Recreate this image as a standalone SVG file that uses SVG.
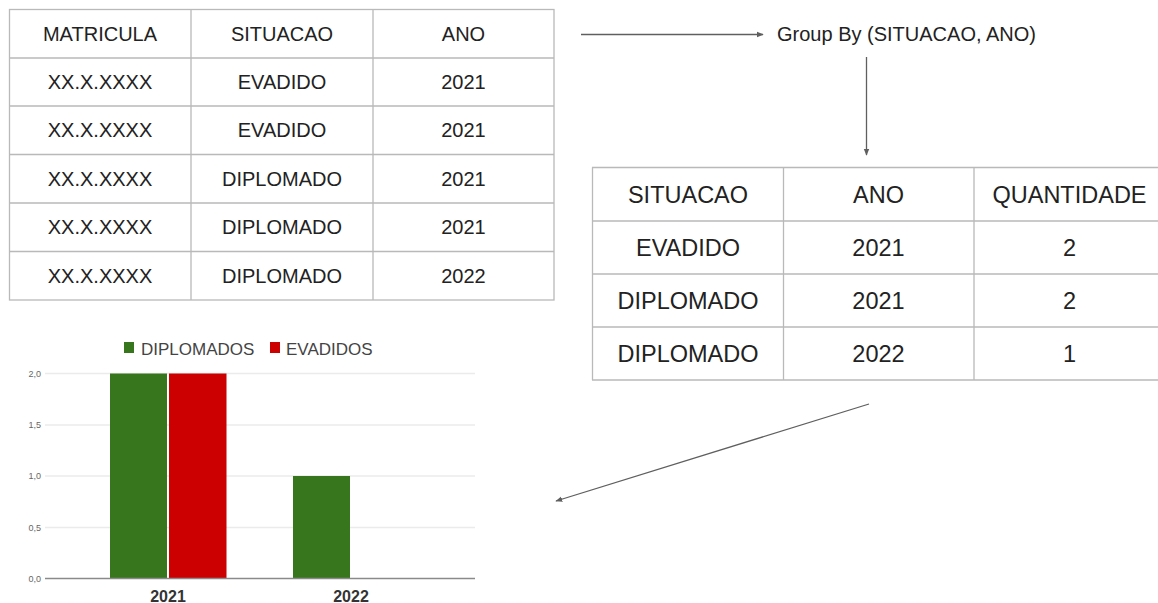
<svg xmlns="http://www.w3.org/2000/svg" width="1158" height="603" viewBox="0 0 1158 603">
<style>
text{font-family:"Liberation Sans",Arial,sans-serif;fill:#222;text-anchor:middle}
.t1{font-size:20px}
.t2{font-size:23.5px}
.grid line{stroke:#b9b9b9;stroke-width:1.3}
.conn{stroke:#5f5f5f;stroke-width:1.3;fill:none;marker-end:url(#ah)}
.gl{stroke:#ebebeb;stroke-width:1.3}
.yl{font-size:9px;fill:#666;text-anchor:end}
</style>
<defs>
<marker id="ah" viewBox="0 0 10 10" refX="9" refY="5" markerWidth="7" markerHeight="7" markerUnits="userSpaceOnUse" orient="auto">
<path d="M0,1 L10,5 L0,9 z" fill="#5f5f5f"/>
</marker>
</defs>
<rect width="1158" height="603" fill="#fff"/>

<g id="table-raw">
<g class="grid">
<rect x="9.5" y="9.5" width="544.5" height="290.5" fill="none" stroke="#b9b9b9" stroke-width="1.3"/>
<line x1="191" y1="9.5" x2="191" y2="300"/>
<line x1="373" y1="9.5" x2="373" y2="300"/>
<line x1="9.5" y1="58" x2="554" y2="58"/>
<line x1="9.5" y1="106" x2="554" y2="106"/>
<line x1="9.5" y1="154.5" x2="554" y2="154.5"/>
<line x1="9.5" y1="203" x2="554" y2="203"/>
<line x1="9.5" y1="251.5" x2="554" y2="251.5"/>
</g>
<g class="t1">
<text x="100" y="40.5">MATRICULA</text><text x="282" y="40.5">SITUACAO</text><text x="463.5" y="40.5">ANO</text>
<text x="100" y="89">XX.X.XXXX</text><text x="282" y="89">EVADIDO</text><text x="463.5" y="89">2021</text>
<text x="100" y="137">XX.X.XXXX</text><text x="282" y="137">EVADIDO</text><text x="463.5" y="137">2021</text>
<text x="100" y="185.5">XX.X.XXXX</text><text x="282" y="185.5">DIPLOMADO</text><text x="463.5" y="185.5">2021</text>
<text x="100" y="234">XX.X.XXXX</text><text x="282" y="234">DIPLOMADO</text><text x="463.5" y="234">2021</text>
<text x="100" y="282.5">XX.X.XXXX</text><text x="282" y="282.5">DIPLOMADO</text><text x="463.5" y="282.5">2022</text>
</g>
</g>

<g id="groupby">
<text x="906.5" y="41" style="font-size:20px">Group By (SITUACAO, ANO)</text>
</g>

<g id="table-grouped">
<g class="grid">
<line x1="592" y1="167.5" x2="1158" y2="167.5"/>
<line x1="592" y1="380" x2="1158" y2="380"/>
<line x1="592.5" y1="167.5" x2="592.5" y2="380"/>
<line x1="783.5" y1="167.5" x2="783.5" y2="380"/>
<line x1="974" y1="167.5" x2="974" y2="380"/>
<line x1="592" y1="221" x2="1158" y2="221"/>
<line x1="592" y1="274" x2="1158" y2="274"/>
<line x1="592" y1="327" x2="1158" y2="327"/>
</g>
<g class="t2">
<text x="688" y="202.5">SITUACAO</text><text x="878.5" y="202.5">ANO</text><text x="1069.5" y="202.5">QUANTIDADE</text>
<text x="688" y="256">EVADIDO</text><text x="878.5" y="256">2021</text><text x="1069.5" y="256">2</text>
<text x="688" y="309">DIPLOMADO</text><text x="878.5" y="309">2021</text><text x="1069.5" y="309">2</text>
<text x="688" y="362">DIPLOMADO</text><text x="878.5" y="362">2022</text><text x="1069.5" y="362">1</text>
</g>
</g>

<g id="chart">
<rect x="124" y="342" width="10" height="11" fill="#38761d"/>
<text x="141" y="354.5" style="font-size:17px;fill:#444;text-anchor:start">DIPLOMADOS</text>
<rect x="270" y="342" width="10" height="11" fill="#cc0000"/>
<text x="286" y="354.5" style="font-size:17px;fill:#444;text-anchor:start">EVADIDOS</text>
<line class="gl" x1="45" y1="373.5" x2="475" y2="373.5"/>
<line class="gl" x1="45" y1="425" x2="475" y2="425"/>
<line class="gl" x1="45" y1="476" x2="475" y2="476"/>
<line class="gl" x1="45" y1="527.5" x2="475" y2="527.5"/>
<text class="yl" x="41" y="376.5">2,0</text>
<text class="yl" x="41" y="428">1,5</text>
<text class="yl" x="41" y="479">1,0</text>
<text class="yl" x="41" y="530.5">0,5</text>
<text class="yl" x="41" y="581.5">0,0</text>
<rect x="110" y="373.5" width="57" height="205" fill="#38761d"/>
<rect x="169" y="373.5" width="57.5" height="205" fill="#cc0000"/>
<rect x="293" y="476" width="57" height="102.5" fill="#38761d"/>
<line x1="45" y1="578.5" x2="475" y2="578.5" stroke="#8a8a8a" stroke-width="1.3"/>
<text x="168" y="602" style="font-size:16px;font-weight:bold;fill:#333">2021</text>
<text x="351" y="602" style="font-size:16px;font-weight:bold;fill:#333">2022</text>
</g>

<g id="connectors">
<line class="conn" x1="581" y1="34.5" x2="763" y2="34.5"/>
<line class="conn" x1="866.5" y1="57" x2="866.5" y2="155"/>
<line class="conn" x1="869" y1="404" x2="556" y2="501"/>
</g>
</svg>
